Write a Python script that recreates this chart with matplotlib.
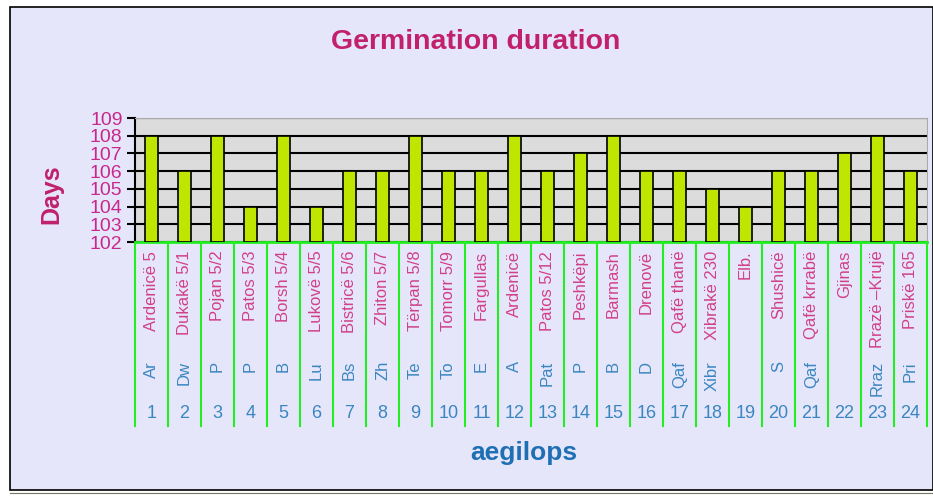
import numpy as np
import matplotlib.pyplot as plt
from matplotlib.patches import Rectangle
from matplotlib.lines import Line2D
from matplotlib.transforms import blended_transform_factory

names = ["Ardenicë 5", "Dukakë 5/1", "Pojan 5/2", "Patos 5/3", "Borsh 5/4",
         "Lukovë 5/5", "Bistricë 5/6", "Zhiton 5/7", "Tërpan 5/8", "Tomorr 5/9",
         "Fargullas", "Ardenicë", "Patos 5/12", "Peshkëpi", "Barmash",
         "Drenovë", "Qafë thanë", "Xibrakë 230", "Elb.", "Shushicë",
         "Qafë krrabë", "Gjinas", "Rrazë –Krujë", "Priskë 165"]
fragments = ["Ar", "Dw", "P", "P", "B", "Lu", "Bs", "Zh", "Te", "To", "E", "A",
             "Pat", "P", "B", "D", "Qaf", "Xibr", "", "S", "Qaf", "", "Rraz", "Pri"]
numbers = [str(i) for i in range(1, 25)]
days = [108, 106, 108, 104, 108, 104, 106, 106, 108, 106, 106, 108,
        106, 107, 108, 106, 106, 105, 104, 106, 106, 107, 108, 106]
yticks = [102, 103, 104, 105, 106, 107, 108, 109]

W, H = 933, 497
plt.rcParams['font.family'] = ['Liberation Sans', 'DejaVu Sans']
fig = plt.figure(figsize=(W / 100, H / 100), dpi=100, facecolor='white')

# chart area frame
fig.patches.append(Rectangle((10 / W, 1 - 490 / H), 923 / W, 483 / H,
                             transform=fig.transFigure, facecolor='#E6E6FA',
                             edgecolor='black', lw=1.2, zorder=-5))
fig.lines.append(Line2D([10 / W, 1], [1 - 493 / H] * 2, transform=fig.transFigure,
                        color='#777766', lw=0.8, zorder=-5))

ax = fig.add_axes([135 / W, 1 - 242 / H, 792 / W, 124 / H])
ax.set_facecolor('#DCDCDC')
x = np.arange(len(days))
ax.bar(x, np.array(days) - 102, bottom=102, width=0.4, color='#BEE600',
       edgecolor='black', lw=1.2, zorder=3)
ax.set_xlim(-0.5, len(days) - 0.5)
ax.set_ylim(102, 109)
ax.set_yticks(yticks)
ax.set_yticklabels([str(v) for v in yticks], color='#C8288C', fontsize=14)
ax.yaxis.grid(True, color='black', lw=1.5, zorder=1)
ax.set_axisbelow(True)
ax.tick_params(axis='y', direction='out', length=6, width=1.5, color='black', pad=3)
ax.set_xticks([])
for s in ['top', 'right']:
    ax.spines[s].set_color('#AAAAAA')
ax.spines['left'].set_linewidth(1.5)
ax.spines['bottom'].set_color('#22EE22')
ax.spines['bottom'].set_linewidth(2)

# category table below the axis
tr = blended_transform_factory(ax.transData, ax.transAxes)
for b in np.arange(len(days) + 1) - 0.5:
    ax.plot([b, b], [0, -1.48], color='#22EE22', lw=1.5, transform=tr, clip_on=False)
for i in range(len(days)):
    ax.text(i, -0.07, names[i], rotation=90, ha='center', va='top', fontsize=12,
            color='#D0408A', transform=tr, clip_on=False)
    if fragments[i]:
        ax.text(i, -0.96, fragments[i], rotation=90, ha='center', va='top', fontsize=12,
                color='#3A86C0', transform=tr, clip_on=False)
    ax.text(i, -1.38, numbers[i], ha='center', va='center', fontsize=13,
            color='#3A86C0', transform=tr, clip_on=False)

fig.text(476 / W, 1 - 42 / H, "Germination duration", ha='center', va='center',
         fontsize=20.5, fontweight='bold', color='#C0206E')
fig.text(51 / W, 1 - 194 / H, "Days", ha='center', va='center', rotation=90,
         fontsize=18, fontweight='bold', color='#C0206E')
fig.text(524 / W, 1 - 453 / H, "aegilops", ha='center', va='center',
         fontsize=19, fontweight='bold', color='#1F6FB5')

fig.savefig('out.png', dpi=100, facecolor=fig.get_facecolor())
